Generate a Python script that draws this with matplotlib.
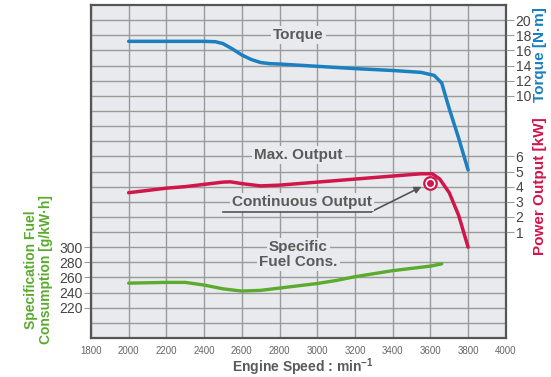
import numpy as np
import matplotlib.pyplot as plt

# engine curves
torque_rpm = [2000, 2200, 2400, 2460, 2500, 2550, 2600, 2650, 2700, 2750, 2800, 3000,
              3200, 3400, 3550, 3620, 3660, 3700, 3750, 3800]
torque_nm = [17.2, 17.2, 17.2, 17.15, 16.9, 16.2, 15.4, 14.8, 14.4, 14.25, 14.2, 13.9,
             13.6, 13.35, 13.1, 12.7, 11.7, 8.3, 4.4, 0.2]

power_rpm = [2000, 2100, 2200, 2300, 2400, 2500, 2540, 2600, 2700, 2800, 3000, 3200,
             3400, 3550, 3610, 3650, 3700, 3750, 3800]
power_kw = [3.6, 3.75, 3.9, 4.0, 4.15, 4.3, 4.32, 4.2, 4.05, 4.1, 4.3, 4.5,
            4.7, 4.85, 4.85, 4.5, 3.6, 2.1, 0.0]

fuel_rpm = [2000, 2100, 2200, 2300, 2400, 2500, 2600, 2700, 2800, 2900, 3000, 3100,
            3200, 3300, 3400, 3500, 3600, 3660]
fuel_g = [252.5, 253, 253.5, 253.5, 250, 245, 242, 243, 246, 249, 252, 256,
          261, 265, 269, 272, 275, 278]

cont_rpm, cont_kw = 3598, 4.24

x_ticks = list(range(1800, 4001, 200))
fuel_ticks = [220, 240, 260, 280, 300]
torque_ticks = [10, 12, 14, 16, 18, 20]
power_ticks = [1, 2, 3, 4, 5, 6]

BG = '#e8eaed'
GRID = '#9a9a9a'
TXT = '#5a5a5a'
BLUE = '#1b7fc0'
RED = '#d0164a'
GREEN = '#5aab2e'

plt.rcParams['font.family'] = ['Liberation Sans', 'DejaVu Sans']

fig = plt.figure(figsize=(5.51, 3.77), dpi=100)
ax = fig.add_axes([0.165, 0.1034, 0.753, 0.8833])
ax.set_facecolor(BG)

# fuel axis (left) - one grid step = 20 g/kWh
ax.set_xlim(1800, 4000)
ax.set_ylim(180, 620)
ax.set_xticks(x_ticks)
ax.set_xticklabels([str(v) for v in x_ticks], fontsize=7, color='#666666')
ax.tick_params(axis='x', length=0, pad=6)
ax.set_yticks(fuel_ticks)
ax.set_yticks(np.arange(200, 620, 20), minor=True)
ax.tick_params(axis='y', which='major', labelsize=10, labelcolor='#444444',
               length=5, color=GRID, pad=1)
ax.tick_params(axis='y', which='minor', length=0)
ax.grid(True, which='both', color=GRID, linewidth=1.0)
ax.set_axisbelow(True)
for s in ax.spines.values():
    s.set_color('#555555')
    s.set_linewidth(1.6)

ax.plot(fuel_rpm, fuel_g, color=GREEN, lw=2.4, solid_capstyle='round', zorder=3)

# torque axis (right, upper)
axt = ax.twinx()
axt.set_ylim(-22, 22)
axt.set_yticks(torque_ticks)
axt.plot(torque_rpm, torque_nm, color=BLUE, lw=2.5, solid_capstyle='round')

# power axis (right, lower)
axp = ax.twinx()
axp.set_ylim(-6, 16)
axp.set_yticks(power_ticks)
axp.plot(power_rpm, power_kw, color=RED, lw=2.5, solid_capstyle='round')
axp.plot(cont_rpm, cont_kw, 'o', ms=9, mfc='white', mec=RED, mew=1.6, zorder=5)
axp.plot(cont_rpm, cont_kw, 'o', ms=4, color=RED, zorder=6)

for a in (axt, axp):
    for s in a.spines.values():
        s.set_visible(False)
    a.tick_params(axis='y', labelsize=10, labelcolor='#444444', length=6,
                  color=GRID, pad=1)

# curve labels on the grid
box = dict(facecolor=BG, edgecolor='none', pad=1.5)
kw = dict(ha='center', va='center', fontsize=11, fontweight='bold', color=TXT,
          bbox=box, zorder=4)
axt.text(2900, 18, 'Torque', **kw)
axp.text(2900, 6.1, 'Max. Output', **kw)
ax.text(2900, 300, 'Specific', **kw)
ax.text(2900, 280, 'Fuel Cons.', **kw)
axp.text(2920, 3.0, 'Continuous Output', **kw)
axp.plot([2498, 3287], [2.35, 2.35], color='#555555', lw=1.2)
axp.annotate('', xy=(cont_rpm - 45, cont_kw - 0.25), xytext=(3287, 2.35),
             arrowprops=dict(arrowstyle='-|>', color='#555555', lw=1.2,
                             mutation_scale=10, shrinkA=0, shrinkB=0))

# axis titles
fig.text(0.98, 0.855, 'Torque [N·m]', rotation=90, ha='center', va='center',
         fontsize=11, fontweight='bold', color=BLUE)
fig.text(0.98, 0.505, 'Power Output [kW]', rotation=90, ha='center', va='center',
         fontsize=11, fontweight='bold', color=RED)
fig.text(0.07, 0.285, 'Specification Fuel\nConsumption [g/kW·h]', rotation=90,
         ha='center', va='center', fontsize=10, fontweight='bold', color=GREEN,
         linespacing=1.1)
fig.text(0.55, 0.014, r'Engine Speed : min$^{\mathregular{-1}}$', ha='center',
         va='baseline', fontsize=10, fontweight='bold', color=TXT)

fig.savefig('out.png', dpi=100)
